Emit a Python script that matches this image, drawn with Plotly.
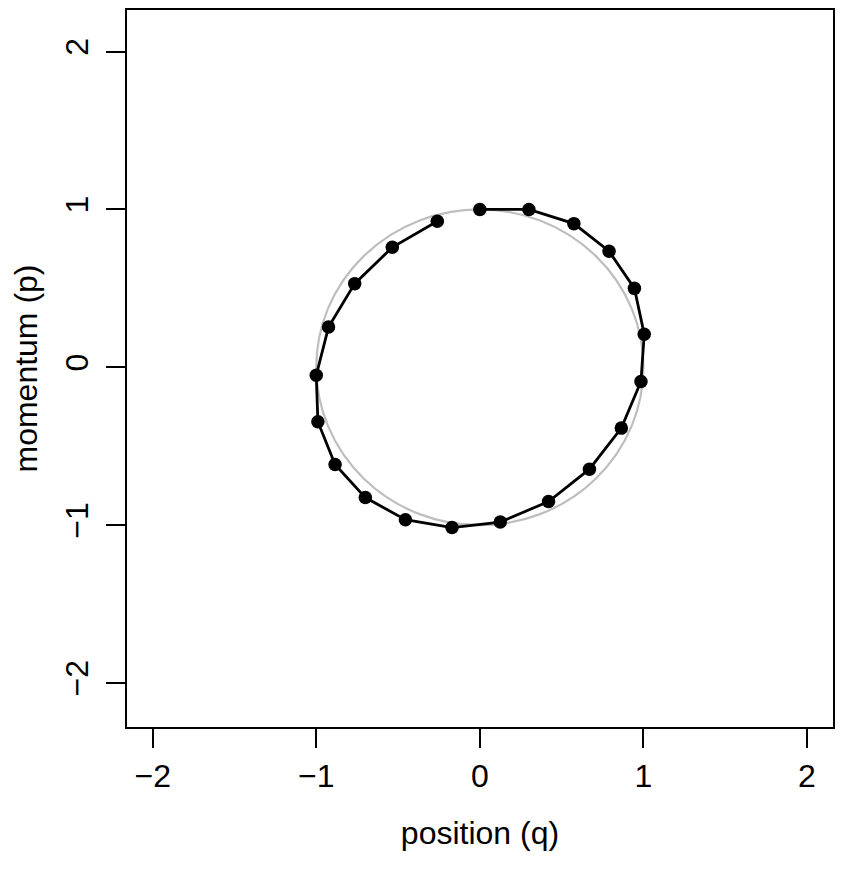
import plotly.graph_objects as go

# Leapfrog-like (modified Euler) trajectory
position_q = [0.0, 0.30, 0.575, 0.79, 0.945, 1.005, 0.985, 0.865, 0.67, 0.42, 0.125,
              -0.17, -0.455, -0.70, -0.885, -0.99, -1.0, -0.925, -0.765, -0.535, -0.26]
momentum_p = [1.0, 1.0, 0.91, 0.735, 0.50, 0.21, -0.09, -0.385, -0.645, -0.85, -0.98,
              -1.015, -0.965, -0.825, -0.615, -0.345, -0.05, 0.255, 0.53, 0.76, 0.925]

# True Hamiltonian contour (unit circle), given by its bounding box
circle_bounds = dict(x0=-1, x1=1, y0=-1, y1=1)

tick_vals = [-2, -1, 0, 1, 2]
tick_text = ["\u22122", "\u22121", "0", "1", "2"]

FONT = "Liberation Sans, Arial, Helvetica, sans-serif"

fig = go.Figure()
fig.add_shape(type="circle", xref="x", yref="y", layer="below",
              line=dict(color="#BEBEBE", width=2.2), **circle_bounds)
fig.add_trace(go.Scatter(x=position_q, y=momentum_p, mode="lines+markers",
                         line=dict(color="black", width=2.8),
                         marker=dict(color="black", size=13.5),
                         showlegend=False, hoverinfo="skip"))

axis_common = dict(showgrid=False, zeroline=False, showline=True, mirror=True,
                   linecolor="black", linewidth=1.5, ticks="outside", ticklen=19,
                   tickwidth=1.5, tickcolor="black", tickvals=tick_vals,
                   ticktext=tick_text, tickfont=dict(family=FONT, size=32, color="black"))

fig.update_layout(
    width=850, height=869,
    margin=dict(l=119, r=25, t=0, b=150),
    paper_bgcolor="white", plot_bgcolor="white",
    xaxis=dict(range=[-2.157, 2.159], ticklabelstandoff=1,
               title=dict(text="position (q)", font=dict(family=FONT, size=32, color="black"),
                          standoff=28),
               **axis_common),
    yaxis=dict(range=[-2.278, 2.263], tickangle=-90, ticklabelstandoff=5,
               title=dict(text="momentum (p)", font=dict(family=FONT, size=32, color="black"),
                          standoff=14),
               **axis_common),
)

fig.write_html("out.html")
